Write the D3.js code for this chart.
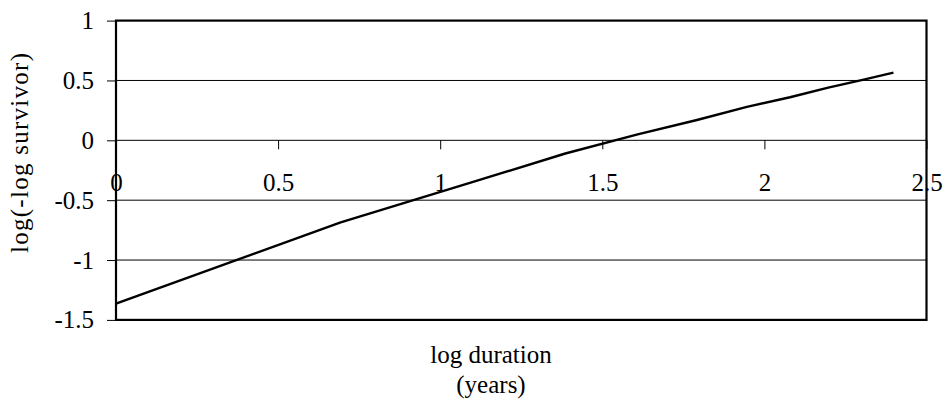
<!DOCTYPE html>
<html>
<head>
<meta charset="utf-8">
<script src="https://cdn.jsdelivr.net/npm/d3@7"></script>
<style>
  html, body { margin: 0; padding: 0; background: #fff; }
  svg { display: block; }
  text { font-family: "Liberation Serif", "Times New Roman", serif; fill: #000; }
</style>
</head>
<body>
<svg id="chart" width="945" height="411"></svg>
<script>
// log duration (years) and log(-log survivor) values
const logDuration = [0, 0.693, 1.099, 1.386, 1.609, 1.792, 1.946, 2.079, 2.197, 2.303, 2.398];
const logLogSurvivor = [-1.365, -0.685, -0.35, -0.11, 0.05, 0.17, 0.28, 0.36, 0.44, 0.505, 0.565];

const xTicks = [0, 0.5, 1, 1.5, 2, 2.5];
const yTicks = [-1.5, -1, -0.5, 0, 0.5, 1];
const xTitleLines = ["log duration", "(years)"];
const yTitle = "log(-log survivor)";

const plot = { left: 116, right: 926.5, top: 20.6, bottom: 319.9 };
const fontSize = 25;

const svg = d3.select("#chart");

const x = d3.scaleLinear().domain([0, 2.5]).range([plot.left, plot.right]);
const y = d3.scaleLinear().domain([-1.5, 1]).range([plot.bottom, plot.top]);

// horizontal gridlines
svg.append("g")
  .selectAll("line")
  .data(yTicks.filter(d => d > -1.5 && d < 1))
  .join("line")
  .attr("x1", plot.left).attr("x2", plot.right)
  .attr("y1", d => y(d)).attr("y2", d => y(d))
  .attr("stroke", "#000").attr("stroke-width", 1);

// y axis on the left edge
const yAxis = d3.axisLeft(y).tickValues(yTicks).tickSize(9).tickPadding(13)
  .tickFormat(d => String(d));
const gy = svg.append("g").attr("transform", `translate(${plot.left},0)`).call(yAxis);
gy.select(".domain").remove();
gy.selectAll(".tick line").attr("stroke", "#000").attr("stroke-width", 1);
gy.selectAll(".tick text")
  .attr("font-size", fontSize)
  .attr("font-family", "Liberation Serif, serif")
  .attr("fill", "#000");

// x axis crossing at y = 0
const xAxis = d3.axisBottom(x).tickValues(xTicks).tickSize(9).tickPadding(24)
  .tickFormat(d => String(d));
const gx = svg.append("g").attr("transform", `translate(0,${y(0)})`).call(xAxis);
gx.select(".domain").remove();
gx.selectAll(".tick line").attr("stroke", "#000").attr("stroke-width", 1);
gx.selectAll(".tick text")
  .attr("font-size", fontSize)
  .attr("font-family", "Liberation Serif, serif")
  .attr("fill", "#000");

// plot frame
svg.append("rect")
  .attr("x", plot.left).attr("y", plot.top)
  .attr("width", plot.right - plot.left).attr("height", plot.bottom - plot.top)
  .attr("fill", "none").attr("stroke", "#000").attr("stroke-width", 2.2);

// data line
const line = d3.line().x(d => x(d[0])).y(d => y(d[1]));
svg.append("path")
  .datum(logDuration.map((d, i) => [d, logLogSurvivor[i]]))
  .attr("d", line)
  .attr("fill", "none").attr("stroke", "#000").attr("stroke-width", 2.4)
  .attr("stroke-linejoin", "round");

// x axis title (two lines)
svg.append("g").selectAll("text")
  .data(xTitleLines)
  .join("text")
  .attr("x", 491).attr("y", (d, i) => 363 + i * 30)
  .attr("text-anchor", "middle")
  .attr("font-size", fontSize)
  .text(d => d);

// y axis title, spread along the axis
svg.append("text")
  .attr("transform", `translate(28,153) rotate(-90)`)
  .attr("text-anchor", "middle")
  .attr("font-size", fontSize)
  .attr("textLength", 200)
  .attr("lengthAdjust", "spacing")
  .text(yTitle);
</script>
</body>
</html>
